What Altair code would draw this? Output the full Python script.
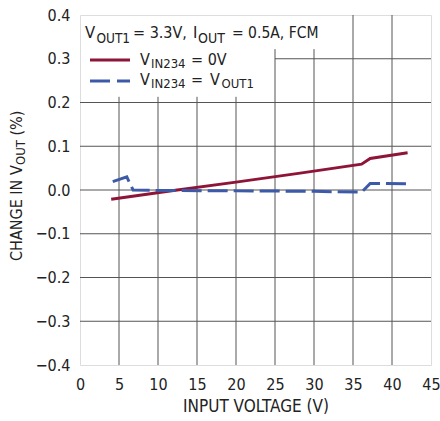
import altair as alt
import pandas as pd

# ---- data ----
vin_red = [4, 12, 20, 28, 36.1, 37.2, 42]
dv_red = [-0.021, -0.001, 0.018, 0.038, 0.059, 0.072, 0.085]

vin_blue = [4.2, 6.0, 6.8, 10, 20, 30, 36.1, 37.2, 42]
dv_blue = [0.019, 0.030, 0.000, -0.001, -0.002, -0.003, -0.005, 0.015, 0.014]

x_ticks = [0, 5, 10, 15, 20, 25, 30, 35, 40, 45]
y_ticks = [-0.4, -0.3, -0.2, -0.1, 0.0, 0.1, 0.2, 0.3, 0.4]

# grid lines (visible extents; upper-left area is left clear for the legend)
vgrid_x = [5, 10, 15, 20, 25, 30, 35, 40]
vgrid_top = [0.213, 0.213, 0.213, 0.213, 0.322, 0.322, 0.4, 0.4]
hgrid_y = [-0.3, -0.2, -0.1, 0.0, 0.1, 0.2, 0.3]
hgrid_left = [0, 0, 0, 0, 0, 0, 25]

FONT = "Liberation Sans Narrow, DejaVu Sans Condensed, Arial Narrow, sans-serif"
RED = "#8e1538"
BLUE = "#3d5aa8"
GRID = "#555555"
TXT = "#222222"

red_df = pd.DataFrame({"vin": vin_red, "dv": dv_red})
blue_df = pd.DataFrame({"vin": vin_blue, "dv": dv_blue})
vg_df = pd.DataFrame({"x": vgrid_x, "y0": [-0.4] * len(vgrid_x), "y1": vgrid_top})
hg_df = pd.DataFrame({"y": hgrid_y, "x0": hgrid_left, "x1": [45] * len(hgrid_y)})

xscale = alt.Scale(domain=[0, 45], nice=False, zero=False)
yscale = alt.Scale(domain=[-0.4, 0.4], nice=False, zero=False)

xaxis = alt.Axis(values=x_ticks, tickCount=10, grid=False, ticks=False, domain=False,
                 title="INPUT VOLTAGE (V)", labelFontSize=16, labelPadding=11,
                 titleFontSize=17, titleFontWeight="normal", titlePadding=6,
                 labelFont=FONT, titleFont=FONT, labelColor=TXT, titleColor=TXT,
                 labelFlush=False, labelOverlap=False, labelBound=False)
yaxis = alt.Axis(values=y_ticks, grid=False, ticks=False, domain=False, title=None,
                 labelFontSize=16, labelPadding=10, labelFont=FONT, labelColor=TXT,
                 labelOverlap=False,
                 labelExpr="replace(format(datum.value, '.1f'), '-', '\u2212')")

vgrid = alt.Chart(vg_df).mark_rule(color=GRID, strokeWidth=1).encode(
    x=alt.X("x:Q", scale=xscale, axis=xaxis),
    y=alt.Y("y0:Q", scale=yscale, axis=yaxis),
    y2="y1:Q",
)
hgrid = alt.Chart(hg_df).mark_rule(color=GRID, strokeWidth=1).encode(
    y=alt.Y("y:Q", scale=yscale, axis=yaxis),
    x=alt.X("x0:Q", scale=xscale, axis=xaxis),
    x2="x1:Q",
)

red_line = alt.Chart(red_df).mark_line(color=RED, strokeWidth=3).encode(
    x=alt.X("vin:Q", scale=xscale, axis=xaxis),
    y=alt.Y("dv:Q", scale=yscale, axis=yaxis),
    order="vin:Q",
)
blue_line = alt.Chart(blue_df).mark_line(color=BLUE, strokeWidth=3, strokeDash=[20, 6]).encode(
    x=alt.X("vin:Q", scale=xscale, axis=xaxis),
    y=alt.Y("dv:Q", scale=yscale, axis=yaxis),
    order="vin:Q",
)

one = pd.DataFrame({"a": [0]})


def txt(s, x, y, size=16, angle=0):
    kw = dict(text=s, font=FONT, fontSize=size, align="left", baseline="alphabetic", color=TXT)
    if angle:
        kw["angle"] = angle
    return alt.Chart(one).mark_text(**kw).encode(x=alt.value(x), y=alt.value(y))


def sample(color, y, dash=None):
    kw = dict(color=color, strokeWidth=3)
    if dash:
        kw["strokeDash"] = dash
    return alt.Chart(one).mark_rule(**kw).encode(
        x=alt.value(10), x2=alt.value(50), y=alt.value(y))


# plot-area-relative pixel positions (plot origin at 80,15)
OX, OY = 80, 15
SUB = 14
texts = [
    # header line
    txt("V", 85 - OX, 38 - OY, 16.5),
    txt("OUT1", 96.5 - OX, 42.5 - OY, 13.5),
    txt("= 3.3V,", 133 - OX, 38 - OY, 16),
    txt("I", 193 - OX, 38 - OY, 16.5),
    txt("OUT", 198 - OX, 42.5 - OY, SUB),
    txt("= 0.5A, FCM", 232 - OX, 38 - OY, 15.5),
    # legend entries
    txt("V", 140 - OX, 65 - OY, 16),
    txt("IN234", 151 - OX, 68 - OY, 13),
    txt("= 0V", 191 - OX, 65 - OY, 16),
    txt("V", 140 - OX, 84.5 - OY, 16),
    txt("IN234", 151 - OX, 87.5 - OY, 13),
    txt("=", 191 - OX, 84.5 - OY, 16),
    txt("V", 210 - OX, 84.5 - OY, 16),
    txt("OUT1", 221.5 - OX, 87.5 - OY, 13),
    # y-axis title
    txt("CHANGE IN V", 21.7 - OX, 261 - OY, 16, 270),
    txt("OUT", 24.5 - OX, 165 - OY, 13, 270),
    txt("(%)", 21.7 - OX, 135.5 - OY, 16, 270),
]

legend_samples = [
    sample(RED, 60 - OY),
    sample(BLUE, 81 - OY, [20, 7]),
]

chart = alt.layer(vgrid, hgrid, red_line, blue_line, *legend_samples, *texts).properties(
    width=351, height=350,
    autosize=alt.AutoSizeParams(type="none"),
    padding={"left": 80, "top": 15, "right": 9, "bottom": 56},
).configure_view(stroke="black", strokeWidth=2).configure(background="white").configure_axis(
    labelOverlap=False, labelFlush=False, labelBound=False)

chart.save("out.html", embed_options={"renderer": "svg", "actions": False})
